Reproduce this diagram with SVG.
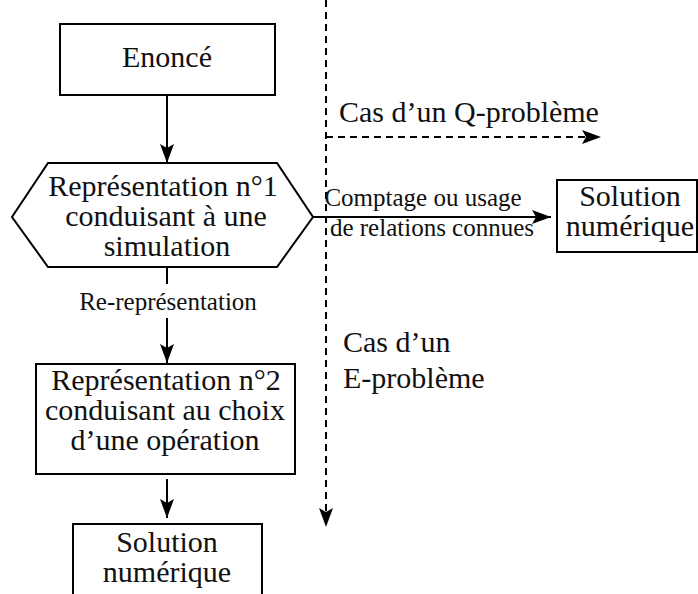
<svg xmlns="http://www.w3.org/2000/svg" width="698" height="594" viewBox="0 0 698 594" font-family="Liberation Serif, Times New Roman, serif">
<defs>
<marker id="ah" markerUnits="userSpaceOnUse" markerWidth="22" markerHeight="16" refX="19" refY="8" orient="auto">
<path d="M0,1 L19,8 L0,15 L4,8 z" fill="#000"/>
</marker>
<style>
.box{fill:#fff;stroke:#000;stroke-width:2}
.t{font-size:30px;text-anchor:middle;fill:#111}
.s{font-size:25px;text-anchor:middle;fill:#111}
.ts{font-size:30px;fill:#111}
.ln{fill:none;stroke:#000;stroke-width:2}
.dash{fill:none;stroke:#000;stroke-width:2;stroke-dasharray:7 5}
</style>
</defs>
<rect width="698" height="594" fill="#fff"/>
<g id="connectors">
<line class="ln" x1="167" y1="96" x2="167" y2="163" marker-end="url(#ah)"/>
<line class="ln" x1="167" y1="267" x2="167" y2="284"/>
<line class="ln" x1="167" y1="318" x2="167" y2="363" marker-end="url(#ah)"/>
<line class="ln" x1="167" y1="479" x2="167" y2="518" marker-end="url(#ah)"/>
<line class="ln" x1="313" y1="217" x2="551" y2="217" marker-end="url(#ah)"/>
<line class="dash" x1="326" y1="0" x2="326" y2="527" marker-end="url(#ah)"/>
<line class="dash" x1="326" y1="137" x2="601" y2="137" marker-end="url(#ah)"/>
<text class="s" x="168" y="310">Re-représentation</text>
<text class="s" x="423" y="206">Comptage ou usage</text>
<text class="s" x="432" y="236">de relations connues</text>
<text class="ts" x="339" y="122">Cas d’un Q-problème</text>
<text class="ts" x="343" y="352">Cas d’un</text>
<text class="ts" x="343" y="388">E-problème</text>
</g>
<g id="enonce">
<rect class="box" x="60" y="24" width="215" height="71"/>
<text class="t" x="167" y="67">Enoncé</text>
</g>
<g id="representation1">
<polygon class="box" points="48,163 277,163 313,217 277,267 48,267 12,217"/>
<text class="t" x="163" y="196">Représentation n°1</text>
<text class="t" x="166" y="226">conduisant à une</text>
<text class="t" x="167" y="256">simulation</text>
</g>
<g id="representation2">
<rect class="box" x="36" y="364" width="259" height="110"/>
<text class="t" x="166" y="390">Représentation n°2</text>
<text class="t" x="165" y="420">conduisant au choix</text>
<text class="t" x="165" y="450">d’une opération</text>
</g>
<g id="solution-bas">
<rect class="box" x="73" y="524" width="189" height="80"/>
<text class="t" x="167" y="552">Solution</text>
<text class="t" x="167" y="582">numérique</text>
</g>
<g id="solution-droite">
<rect class="box" x="557" y="180" width="140" height="72"/>
<text class="t" x="630" y="206">Solution</text>
<text class="t" x="630" y="236">numérique</text>
</g>
</svg>
